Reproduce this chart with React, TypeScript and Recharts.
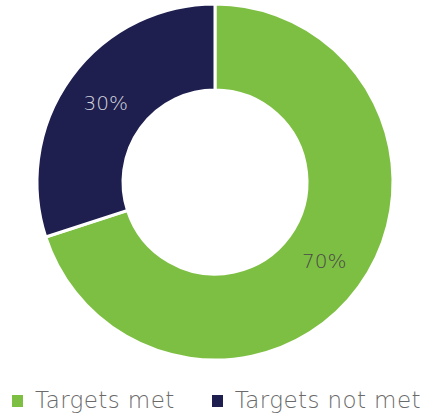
import { Cell, Legend, Pie, PieChart } from "recharts";

const categories = ["Targets met", "Targets not met"];
const shares = [70, 30];
const colors = ["#7DBF42", "#1E1F4F"];
const labelColors = ["#4a4a4a", "#d4d4de"];

const data = categories.map((name, i) => ({ name, value: shares[i] }));

const RAD = Math.PI / 180;
const FONT = "'DejaVu Sans', sans-serif";

function SliceLabel(props: any) {
  const { cx, cy, midAngle, innerRadius, outerRadius, index, value } = props;
  const r = (innerRadius + outerRadius) / 2;
  const x = cx + r * Math.cos(-midAngle * RAD);
  const y = cy + r * Math.sin(-midAngle * RAD);
  return (
    <text
      x={x}
      y={y + 7}
      fill={labelColors[index]}
      textAnchor="middle"
      fontSize={20}
      fontFamily={FONT}
      fontWeight={300}
    >
      {`${value}%`}
    </text>
  );
}

function LegendRow() {
  return (
    <div
      style={{
        display: "flex",
        paddingLeft: 12,
        fontFamily: FONT,
        fontSize: 23,
        letterSpacing: 0.4,
        lineHeight: 1,
        fontWeight: 300,
        color: "#6a6a6a",
        whiteSpace: "nowrap",
      }}
    >
      {categories.map((c, i) => (
        <span
          key={c}
          style={{
            display: "flex",
            alignItems: "center",
            marginRight: 37,
            flexShrink: 0,
          }}
        >
          <span
            style={{
              display: "inline-block",
              width: 11,
              height: 12,
              background: colors[i],
              marginRight: 12,
            }}
          />
          {c}
        </span>
      ))}
    </div>
  );
}

export default function App() {
  return (
    <div style={{ position: "absolute", left: 0, top: 0, background: "#fff" }}>
      <PieChart width={423} height={417} margin={{ top: 0, right: 0, bottom: 0, left: 0 }}>
        <Pie
          data={data}
          dataKey="value"
          nameKey="name"
          cx={215}
          cy={182}
          outerRadius={178}
          innerRadius={92}
          startAngle={90}
          endAngle={-270}
          stroke="#fff"
          strokeWidth={3}
          label={SliceLabel}
          labelLine={false}
          isAnimationActive={false}
        >
          {data.map((d, i) => (
            <Cell key={d.name} fill={colors[i]} />
          ))}
        </Pie>
        <Legend
          wrapperStyle={{ top: 389, left: 0, width: 423 }}
          content={() => <LegendRow />}
        />
      </PieChart>
    </div>
  );
}
